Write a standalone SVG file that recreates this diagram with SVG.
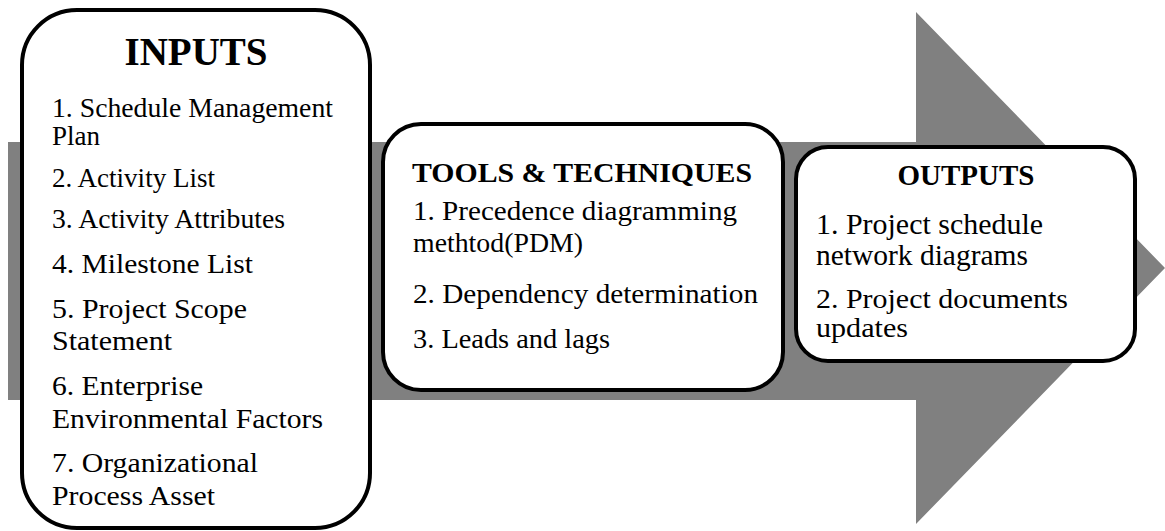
<svg xmlns="http://www.w3.org/2000/svg" width="1165" height="531" viewBox="0 0 1165 531">
  <style>
    text { font-family: "Liberation Serif", "Times New Roman", serif; fill: #000000; }
    .box { fill: #ffffff; stroke: #000000; stroke-width: 4; }
    .title { font-weight: bold; }
  </style>

  <!-- Broad process arrow in the background -->
  <g id="connectors">
    <polygon points="8,142 916,142 916,12 1165,268 916,524 916,400 8,400" fill="#808080"/>
  </g>

  <!-- Inputs -->
  <g id="inputs">
    <rect class="box" x="22" y="10" width="348" height="518" rx="55" ry="55"/>
    <text class="title" x="196" y="65" font-size="39" text-anchor="middle">INPUTS</text>
    <text x="52" y="117" font-size="27" textLength="281" lengthAdjust="spacingAndGlyphs">1.  Schedule Management</text>
    <text x="52" y="145" font-size="27" textLength="48" lengthAdjust="spacingAndGlyphs">Plan</text>
    <text x="52" y="187" font-size="27" textLength="163" lengthAdjust="spacingAndGlyphs">2. Activity List</text>
    <text x="52" y="228" font-size="27" textLength="233" lengthAdjust="spacingAndGlyphs">3. Activity Attributes</text>
    <text x="52" y="273" font-size="27" textLength="201" lengthAdjust="spacingAndGlyphs">4. Milestone List</text>
    <text x="52" y="318" font-size="27" textLength="195" lengthAdjust="spacingAndGlyphs">5. Project Scope</text>
    <text x="52" y="350" font-size="27" textLength="120" lengthAdjust="spacingAndGlyphs">Statement</text>
    <text x="52" y="395" font-size="27" textLength="151" lengthAdjust="spacingAndGlyphs">6. Enterprise</text>
    <text x="52" y="428" font-size="27" textLength="271" lengthAdjust="spacingAndGlyphs">Environmental Factors</text>
    <text x="52" y="472" font-size="27" textLength="206" lengthAdjust="spacingAndGlyphs">7. Organizational</text>
    <text x="52" y="505" font-size="27" textLength="163" lengthAdjust="spacingAndGlyphs">Process Asset</text>
  </g>

  <!-- Tools & techniques -->
  <g id="tools">
    <rect class="box" x="383" y="124" width="400" height="266" rx="38" ry="38"/>
    <text class="title" x="412" y="182" font-size="28" textLength="340" lengthAdjust="spacingAndGlyphs">TOOLS &amp; TECHNIQUES</text>
    <text x="413" y="220" font-size="28" textLength="324" lengthAdjust="spacingAndGlyphs">1. Precedence diagramming</text>
    <text x="413" y="252" font-size="28" textLength="170" lengthAdjust="spacingAndGlyphs">methtod(PDM)</text>
    <text x="413" y="303" font-size="28" textLength="345" lengthAdjust="spacingAndGlyphs">2. Dependency determination</text>
    <text x="413" y="348" font-size="28" textLength="197" lengthAdjust="spacingAndGlyphs">3. Leads and lags</text>
  </g>

  <!-- Outputs -->
  <g id="outputs">
    <rect class="box" x="796" y="147" width="339" height="214" rx="32" ry="32"/>
    <text class="title" x="966" y="185" font-size="29" text-anchor="middle">OUTPUTS</text>
    <text x="816" y="234" font-size="29" textLength="227" lengthAdjust="spacingAndGlyphs">1. Project schedule</text>
    <text x="816" y="265" font-size="29" textLength="212" lengthAdjust="spacingAndGlyphs">network diagrams</text>
    <text x="816" y="308" font-size="28" textLength="252" lengthAdjust="spacingAndGlyphs">2. Project documents</text>
    <text x="816" y="337" font-size="28" textLength="92" lengthAdjust="spacingAndGlyphs">updates</text>
  </g>
</svg>
